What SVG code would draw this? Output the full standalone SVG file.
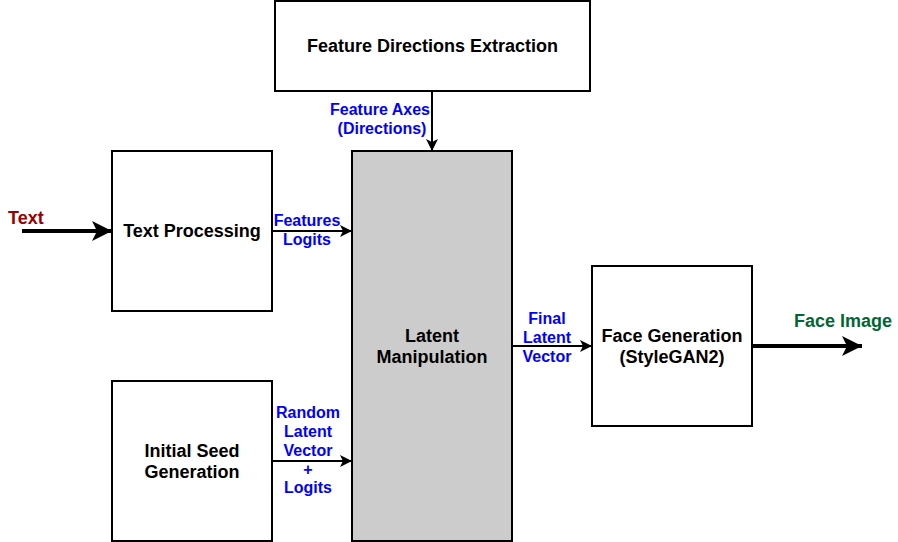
<svg xmlns="http://www.w3.org/2000/svg" width="898" height="542" viewBox="0 0 898 542">
<style>
.box{fill:#ffffff;stroke:#000000;stroke-width:2}
.gray{fill:#cccccc}
.t{font-family:"Liberation Sans",Arial,sans-serif;font-weight:bold;font-size:18px;fill:#000000;text-anchor:middle}
.l{font-family:"Liberation Sans",Arial,sans-serif;font-weight:bold;font-size:16px;fill:#0000ff;text-anchor:middle}
.thin{stroke:#000000;stroke-width:2;fill:none}
.thick{stroke:#000000;stroke-width:4;fill:none}
</style>
<defs>
<marker id="a" markerUnits="userSpaceOnUse" markerWidth="14" markerHeight="12" refX="12" refY="6" orient="auto">
<path d="M12,6 L0,0 L3,6 L0,12 Z" fill="#000"/>
</marker>
<marker id="A" markerUnits="userSpaceOnUse" markerWidth="22" markerHeight="22" refX="20" refY="11" orient="auto">
<path d="M20,11 L0,1 L5,11 L0,21 Z" fill="#000"/>
</marker>
</defs>
<g id="connectors">
<line class="thick" x1="22" y1="231" x2="112" y2="231" marker-end="url(#A)"/>
<line class="thin" x1="272" y1="231" x2="352" y2="231" marker-end="url(#a)"/>
<line class="thin" x1="272" y1="461" x2="352" y2="461" marker-end="url(#a)"/>
<line class="thin" x1="432" y1="91" x2="432" y2="151" marker-end="url(#a)"/>
<line class="thin" x1="512" y1="346" x2="592" y2="346" marker-end="url(#a)"/>
<line class="thick" x1="752" y1="346" x2="862" y2="346" marker-end="url(#A)"/>
<text x="8" y="224" font-family="Liberation Sans, Arial, sans-serif" font-weight="bold" font-size="18" fill="#990000">Text</text>
<text x="794" y="327" font-family="Liberation Sans, Arial, sans-serif" font-weight="bold" font-size="18" fill="#006633">Face Image</text>
<text class="l" x="307" y="226">Features</text>
<text class="l" x="307" y="245">Logits</text>
<text class="l" x="308" y="417.5">Random</text>
<text class="l" x="308" y="436.5">Latent</text>
<text class="l" x="308" y="455.5">Vector</text>
<text class="l" x="308" y="474.5">+</text>
<text class="l" x="308" y="493">Logits</text>
<text class="l" x="380" y="114.5">Feature Axes</text>
<text class="l" x="382" y="133.5">(Directions)</text>
<text class="l" x="547" y="323.5">Final</text>
<text class="l" x="547" y="342.5">Latent</text>
<text class="l" x="547" y="361.5">Vector</text>
</g>
<g id="feature-directions">
<rect class="box" x="275" y="1" width="315" height="90"/>
<text class="t" x="432.5" y="52">Feature Directions Extraction</text>
</g>
<g id="text-processing">
<rect class="box" x="112" y="151" width="160" height="160"/>
<text class="t" x="192" y="237">Text Processing</text>
</g>
<g id="initial-seed">
<rect class="box" x="112" y="381" width="160" height="160"/>
<text class="t" x="192" y="457">Initial Seed</text>
<text class="t" x="192" y="478">Generation</text>
</g>
<g id="latent-manipulation">
<rect class="box gray" x="352" y="151" width="160" height="390"/>
<text class="t" x="432" y="342">Latent</text>
<text class="t" x="432" y="363">Manipulation</text>
</g>
<g id="face-generation">
<rect class="box" x="592" y="266" width="160" height="160"/>
<text class="t" x="672" y="342">Face Generation</text>
<text class="t" x="672" y="363">(StyleGAN2)</text>
</g>
</svg>
